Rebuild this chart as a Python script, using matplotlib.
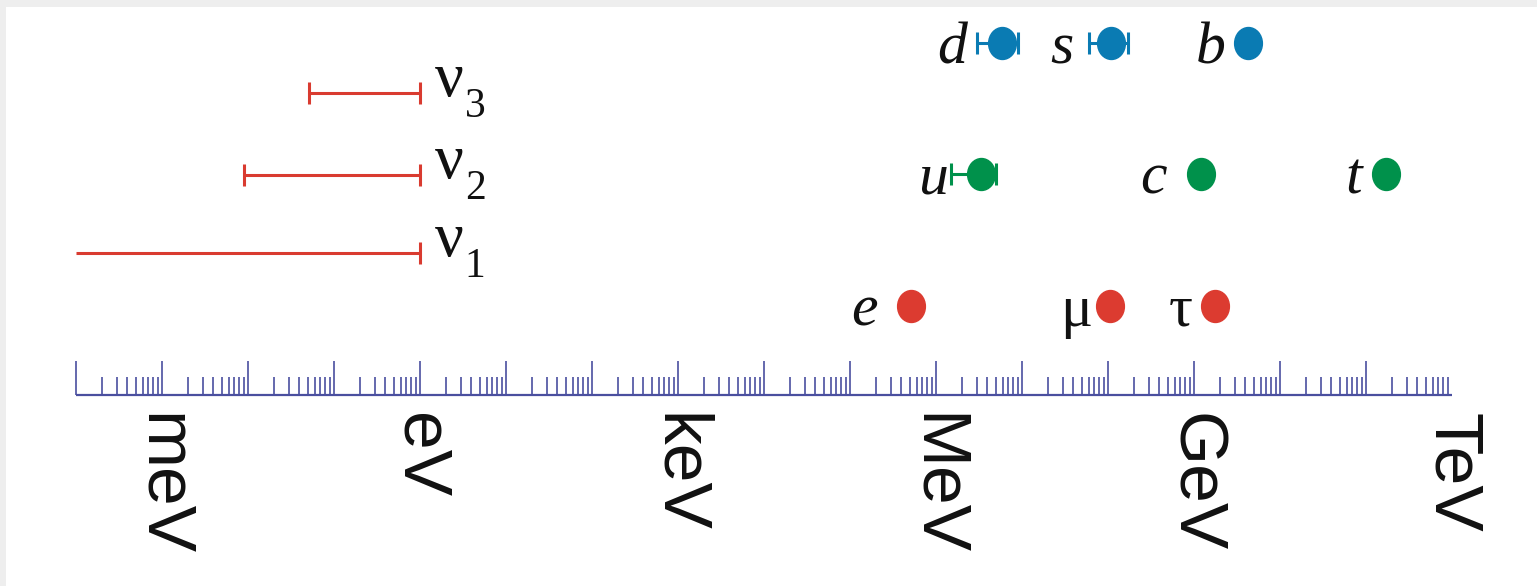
import matplotlib
matplotlib.use("Agg")
import matplotlib.pyplot as plt
from matplotlib.markers import MarkerStyle
from matplotlib.transforms import Affine2D
from matplotlib.patches import Rectangle

# === masses in eV ===
down_names = ["d", "s", "b"]
down_mass = [5.9e6, 1.1e8, 4.3e9]
down_lo = [3.0e6, 6.0e7, 4.3e9]
down_hi = [9.0e6, 1.7e8, 4.3e9]

up_names = ["u", "c", "t"]
up_mass = [3.4e6, 1.22e9, 1.74e11]
up_lo = [1.5e6, 1.22e9, 1.74e11]
up_hi = [5.0e6, 1.22e9, 1.74e11]

lepton_names = ["e", "μ", "τ"]
lepton_mass = [0.511e6, 105.7e6, 1777e6]

nu_index = ["1", "2", "3"]
nu_lo = [1e-4, 9e-3, 5.1e-2]      # nu1: pas de borne inférieure
nu_hi = [1.0, 1.0, 1.0]
nu_has_lo_cap = [False, True, True]

scale_names = ["meV", "eV", "keV", "MeV", "GeV", "TeV"]
scale_values = [1e-3, 1.0, 1e3, 1e6, 1e9, 1e12]
decades = list(range(-4, 12))

# === style / mise en page (pixels, y vers le bas) ===
W, H = 1537, 586
px_per_decade = 86.0
x0_px = 75.7
row_y = {"down": 43, "up": 174, "lepton": 306}
nu_y = [253, 175, 93]
axis_y = 395

BLUE = "#0a7bb3"
GREEN = "#00914b"
RED = "#dc3b30"
NU_RED = "#d93b30"
AXIS = "#4a4f9f"
INK = "#111111"

dot = MarkerStyle("o", transform=Affine2D().scale(1, 1.15))

fig = plt.figure(figsize=(W / 100, H / 100), dpi=100, facecolor="#eeeeee")
fig.patches.append(Rectangle((6 / W, 0), 1, (H - 7) / H, transform=fig.transFigure,
                             facecolor="white", edgecolor="none", zorder=-1))
ax = fig.add_axes([0, 0, 1, 1])
ax.set_xscale("log")
ax.set_xlim(10 ** (-4 - x0_px / px_per_decade), 10 ** (-4 + (W - x0_px) / px_per_decade))
ax.set_ylim(H, 0)
ax.axis("off")
ax.patch.set_alpha(0)


def rangee(names, mass, lo, hi, y, color, label_dx):
    xerr = [[m - l for m, l in zip(mass, lo)], [h - m for m, h in zip(mass, hi)]]
    for i in range(len(names)):
        if xerr[0][i] > 0 or xerr[1][i] > 0:
            ax.errorbar([mass[i]], [y], xerr=[[xerr[0][i]], [xerr[1][i]]], fmt="none",
                        ecolor=color, elinewidth=2.2, capsize=8, capthick=2.2, zorder=2)
    ax.plot(mass, [y] * len(mass), linestyle="none", marker=dot, markersize=20,
            color=color, zorder=3)
    for name, m, dx in zip(names, mass, label_dx):
        ax.annotate(name, xy=(m, y), xytext=(dx, -20), textcoords="offset pixels",
                    ha="right", va="baseline", fontsize=43,
                    family="Liberation Serif", style="italic", color=INK)


rangee(down_names, down_mass, down_lo, down_hi, row_y["down"], BLUE, [-35, -38, -23])
rangee(up_names, up_mass, up_lo, up_hi, row_y["up"], GREEN, [-34, -34, -24])

ax.plot(lepton_mass, [row_y["lepton"]] * 3, linestyle="none", marker=dot,
        markersize=20, color=RED, zorder=3)
for name, m, dx in zip(lepton_names, lepton_mass, [-33, -18, -22]):
    ax.annotate(name, xy=(m, row_y["lepton"]), xytext=(dx, -20), textcoords="offset pixels",
                ha="right", va="baseline", fontsize=43, color=INK,
                family="Liberation Serif", style="italic" if name == "e" else "normal")

# === neutrinos ===
for idx, lo, hi, y, cap in zip(nu_index, nu_lo, nu_hi, nu_y, nu_has_lo_cap):
    ax.hlines(y, lo, hi, color=NU_RED, lw=2.2)
    caps = [lo, hi] if cap else [hi]
    ax.plot(caps, [y] * len(caps), linestyle="none", marker="|", markersize=16.5,
            markeredgewidth=2.2, color=NU_RED)
    ax.annotate("ν", xy=(hi, y), xytext=(15, -3), textcoords="offset pixels",
                ha="left", va="baseline", fontsize=46, color=INK, family="Liberation Serif")
    ax.annotate(idx, xy=(hi, y), xytext=(45, -24), textcoords="offset pixels",
                ha="left", va="baseline", fontsize=30, color=INK, family="Liberation Serif")

# === échelle logarithmique ===
ax.hlines(axis_y, 10.0 ** decades[0], 10.0 ** (decades[-1] + 1), color=AXIS, lw=1.6)
ax.vlines([10.0 ** k for k in decades], axis_y - 34, axis_y, color=AXIS, lw=1.2)
minors = [j * 10.0 ** k for k in decades for j in range(2, 10)]
ax.vlines(minors, axis_y - 18, axis_y, color=AXIS, lw=1.2)

for name, v in zip(scale_names, scale_values):
    ax.text(v, 413, name, rotation=270, ha="center", va="top", fontsize=50,
            family="Liberation Sans", color=INK)

fig.savefig("out.png", dpi=100, facecolor=fig.get_facecolor())
